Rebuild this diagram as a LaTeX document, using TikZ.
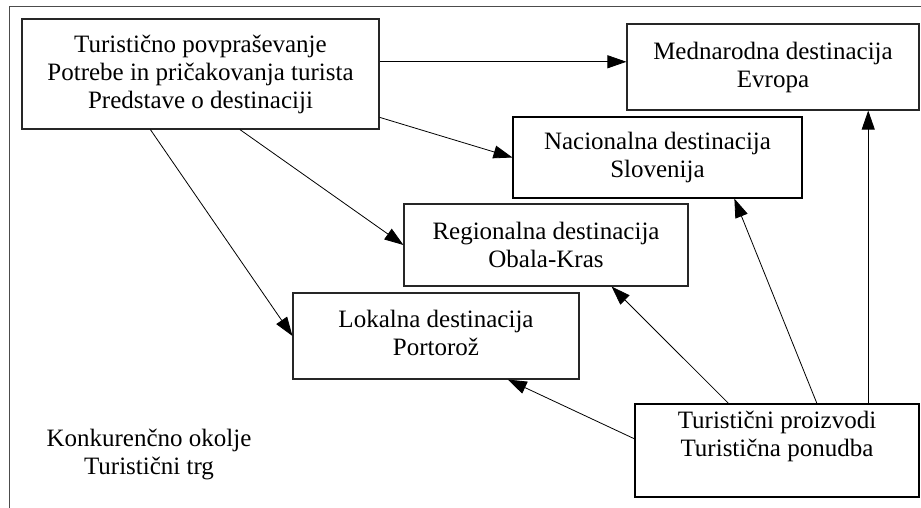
\documentclass[tikz,border=0pt]{standalone}
\usepackage{fontspec}
\setmainfont{Liberation Serif}
\usetikzlibrary{arrows.meta,calc}
\begin{document}
\begin{tikzpicture}[x=1pt,y=-1pt,
  box/.style={draw=black!85,line width=1.1pt,inner sep=0pt,align=center,
    font=\fontsize{25}{28}\selectfont},
  conn/.style={line width=0.8pt,-{Triangle[length=19pt,width=13pt]}},
  lbl/.style={align=center,font=\fontsize{25}{28}\selectfont}]
\useasboundingbox (0,0) rectangle (921,508);
\draw[black!70,line width=1pt] (9,508) -- (9,7) -- (921,7);
\node[box,minimum width=357pt,minimum height=110pt] (b1) at (200.5,74)
  {Turistično povpraševanje\\Potrebe in pričakovanja turista\\Predstave o destinaciji};
\node[box,minimum width=292pt,minimum height=86pt] (med) at (773,67)
  {Mednarodna destinacija\\Evropa};
\node[box,draw=black,minimum width=289pt,minimum height=81pt] (nac) at (657.5,157.5)
  {Nacionalna destinacija\\Slovenija};
\node[box,minimum width=284pt,minimum height=82pt] (reg) at (546,245)
  {Regionalna destinacija\\Obala-Kras};
\node[box,minimum width=286pt,minimum height=86pt] (lok) at (436,336)
  {Lokalna destinacija\\Portorož\vphantom{g}};
\node[box,draw=black,minimum width=284pt,minimum height=93pt] (pro) at (777,450.5)
  {Turistični proizvodi\\Turistična ponudba\\[6pt]};
\node[lbl] (trg) at (149,454) {Konkurenčno okolje\\Turistični trg};
\coordinate (s1) at ($(b1.north east)!0.39!(b1.south east)$);
\draw[conn] (s1) -- (med.west |- s1);
\draw[conn] ($(b1.north east)!0.89!(b1.south east)$) -- (nac.west);
\draw[conn] ($(b1.south west)!0.61!(b1.south east)$) -- (reg.west);
\draw[conn] ($(b1.south west)!0.36!(b1.south east)$) -- (lok.west);
\draw[conn] ($(pro.north west)!0.376!(pro.south west)$) -- ($(lok.south west)!0.75!(lok.south east)$);
\draw[conn] ($(pro.north west)!0.33!(pro.north east)$) -- ($(reg.south west)!0.73!(reg.south east)$);
\draw[conn] ($(pro.north west)!0.64!(pro.north east)$) -- ($(nac.south west)!0.765!(nac.south east)$);
\coordinate (s8) at ($(pro.north west)!0.82!(pro.north east)$);
\draw[conn] (s8) -- (s8 |- med.south);
\end{tikzpicture}
\end{document}
